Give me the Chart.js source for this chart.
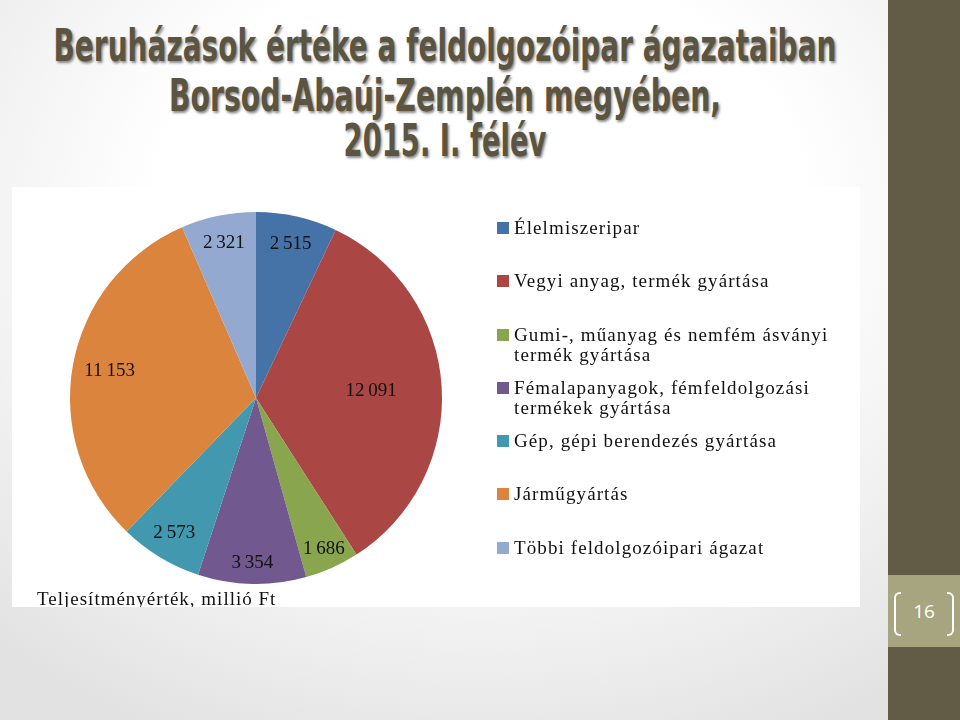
<!DOCTYPE html>
<html>
<head>
<meta charset="utf-8">
<script src="https://cdn.jsdelivr.net/npm/chart.js@4"></script>
<style>
  body { margin: 0; width: 960px; height: 720px; overflow: hidden; position: relative;
    background: radial-gradient(ellipse 75% 80% at 50% 30%, #ffffff 45%, #e2e2e2 100%); }
  .title { position: absolute; left: 445px; line-height: 48px; font-family: "DejaVu Sans Condensed", "DejaVu Sans";
    font-weight: bold; font-size: 44px; color: #5a5441; white-space: nowrap; text-shadow: 2px 2px 3px rgba(0,0,0,0.45); }
  #box { position: absolute; left: 12px; top: 187px; width: 848px; height: 420px; background: #fff; overflow: hidden; }
  #pie { position: absolute; left: 0; top: 0; }
  #legend { position: absolute; left: 485px; top: 31px; width: 360px; }
  .item { height: 53.3px; position: relative; }
  .item i { position: absolute; left: 0; top: 4px; width: 12px; height: 12px; }
  .item span { display: block; margin-left: 17px; width: 340px; }
  .txt { font-family: "Liberation Serif", serif; font-size: 19px; line-height: 20px; color: #111; letter-spacing: 1.1px; }
  #caption { position: absolute; left: 25px; top: 402px; white-space: nowrap; letter-spacing: 1px; }
  #side { position: absolute; left: 888px; top: 0; width: 72px; height: 720px; background: #625b45; }
  #page { position: absolute; left: 888px; top: 575px; width: 72px; height: 72px; background: #a7a480; }
  #page .num { position: absolute; left: 0; width: 72px; top: 25px; text-align: center; color: #fff;
    font-family: "Open Sans", sans-serif; font-size: 19px; line-height: 22px; }
  .br { position: absolute; top: 17px; width: 5px; height: 40px; border: 2px solid #fff; }
  .br.l { left: 6px; border-right: none; border-radius: 6px 0 0 6px; }
  .br.r { right: 6px; border-left: none; border-radius: 0 6px 6px 0; }
</style>
</head>
<body>
<div class="title" style="top:22px" data-w="783">Beruházások értéke a feldolgozóipar ágazataiban</div>
<div class="title" style="top:72px" data-w="552">Borsod-Abaúj-Zemplén megyében,</div>
<div class="title" style="top:117px" data-w="203">2015. I. félév</div>

<div id="box">
  <canvas id="pie" width="488" height="420"></canvas>
  <div id="legend"></div>
  <div id="caption" class="txt">Teljesítményérték, millió Ft</div>
</div>

<div id="side"></div>
<div id="page"><div class="br l"></div><div class="num">16</div><div class="br r"></div></div>

<script>
const sectors = ['Élelmiszeripar', 'Vegyi anyag, termék gyártása', 'Gumi-, műanyag és nemfém ásványi termék gyártása',
  'Fémalapanyagok, fémfeldolgozási termékek gyártása', 'Gép, gépi berendezés gyártása', 'Járműgyártás',
  'Többi feldolgozóipari ágazat']
const values = [2515, 12091, 1686, 3354, 2573, 11153, 2321]
const colors = ['#4572a7', '#aa4643', '#89a54e', '#71588f', '#4198af', '#db843d', '#93a9cf']

// title lines squeezed to the widths of the original, centred on x=445
document.querySelectorAll('.title').forEach(function(s) {
  s.style.transformOrigin = '0 0'
  s.style.transform = 'scaleX(' + (s.dataset.w / s.offsetWidth) + ') translateX(-50%)'
})

function fmt(v) {
  return String(v).replace(/\B(?=(\d{3})+(?!\d))/g, '\u2009')
}

const legend = document.getElementById('legend')
sectors.forEach(function(name, i) {
  let d = document.createElement('div')
  d.className = 'item txt'
  d.innerHTML = '<i style="background:' + colors[i] + '"></i><span></span>'
  d.querySelector('span').textContent = name
  legend.appendChild(d)
})

const sliceLabels = {
  id: 'sliceLabels',
  afterDatasetsDraw(chart, args, opts) {
    const ctx = chart.ctx
    const meta = chart.getDatasetMeta(0)
    ctx.save()
    ctx.font = '19px "Liberation Serif"'
    ctx.fillStyle = '#111'
    ctx.textAlign = 'center'
    ctx.textBaseline = 'middle'
    meta.data.forEach(function(arc, i) {
      const p = arc.getProps(['x', 'y', 'startAngle', 'endAngle', 'outerRadius'], true)
      const mid = (p.startAngle + p.endAngle) / 2
      const r = p.outerRadius * opts.radius[i]
      ctx.fillText(fmt(chart.data.datasets[0].data[i]), p.x + Math.cos(mid) * r, p.y + Math.sin(mid) * r)
    })
    ctx.restore()
  }
}

new Chart(document.getElementById('pie'), {
  type: 'pie',
  data: {
    labels: sectors,
    datasets: [{
      data: values,
      backgroundColor: colors,
      borderWidth: 0
    }]
  },
  options: {
    responsive: false,
    animation: false,
    layout: { padding: { top: 25, bottom: 23 } },
    plugins: {
      legend: { display: false },
      tooltip: { enabled: false },
      sliceLabels: { radius: [0.85, 0.62, 0.89, 0.89, 0.85, 0.8, 0.85] }
    }
  },
  plugins: [sliceLabels]
})
</script>
</body>
</html>
